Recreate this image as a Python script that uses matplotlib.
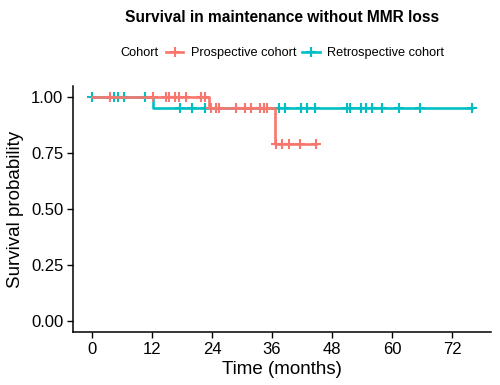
import numpy as np
import matplotlib
matplotlib.use("Agg")
import matplotlib.pyplot as plt
from matplotlib.lines import Line2D

# Kaplan-Meier step data
pro_times = [0, 23.3, 36.5, 44.7]
pro_surv = [1.0, 0.953, 0.79, 0.79]
retro_times = [0, 12.2, 76.0]
retro_surv = [1.0, 0.952, 0.952]

# censor times
pro_cens = [3.5, 12.2, 14.7, 15.4, 16.6, 17.4, 18.8, 21.7, 22.5,
            23.8, 24.7, 25.3, 28.8, 30.5, 31.7, 33.5, 34.3, 35.0,
            36.8, 38.0, 39.3, 41.5, 44.7]
retro_cens = [0, 4.3, 5.1, 6.3, 10.5, 17.5, 20.0, 22.5,
              37.3, 38.6, 41.8, 42.9, 44.5, 51.0, 51.6, 53.8, 54.7,
              56.0, 58.0, 61.3, 65.5, 76.0]

x_ticks = [0, 12, 24, 36, 48, 60, 72]
y_ticks = [0.0, 0.25, 0.5, 0.75, 1.0]
y_labels = ["0.00", "0.25", "0.50", "0.75", "1.00"]

red = "#F8766D"
cyan = "#00BFC4"

plt.rcParams['font.family'] = ['Liberation Sans', 'DejaVu Sans']

fig = plt.figure(figsize=(5, 3.85), dpi=100)
ax = fig.add_axes([0.146, 0.1377, 0.836, 0.639])


def level(times, surv, t):
    idx = np.searchsorted(times, t, side='right') - 1
    return np.array(surv)[idx]


for times, surv, cens, col, z in [(retro_times, retro_surv, retro_cens, cyan, 2),
                                  (pro_times, pro_surv, pro_cens, red, 3)]:
    ax.step(times, surv, where='post', color=col, lw=1.9, zorder=z)
    ys = [level(times, surv, t) for t in cens]
    ax.plot(cens, ys, ls='none', marker='+', ms=7, mew=1.5, color=col, zorder=z)

ax.set_xlim(-3.8, 79.8)
ax.set_ylim(-0.05, 1.05)
ax.set_xticks(x_ticks)
ax.set_yticks(y_ticks)
ax.set_yticklabels(y_labels)
ax.tick_params(labelsize=12, colors='black', length=4, width=1, direction='out', pad=3)
for s in ['top', 'right']:
    ax.spines[s].set_visible(False)
for s in ['left', 'bottom']:
    ax.spines[s].set_linewidth(1.1)
    ax.spines[s].set_color('black')
ax.set_xlabel("Time (months)", fontsize=13.5, labelpad=3)
ax.set_ylabel("Survival probability", fontsize=13.5, labelpad=5)

fig.text(0.564, 0.955, "Survival in maintenance without MMR loss",
         fontsize=11.2, fontweight='bold', ha='center', va='center')

fig.text(0.24, 0.862, "Cohort", fontsize=9.2, ha='left', va='center')
handles = [Line2D([], [], color=red, lw=1.9, marker='+', ms=7, mew=1.5),
           Line2D([], [], color=cyan, lw=1.9, marker='+', ms=7, mew=1.5)]
fig.legend(handles, ["Prospective cohort", "Retrospective cohort"],
           loc='center left', bbox_to_anchor=(0.332, 0.862), ncol=2,
           frameon=False, fontsize=9.2, handlelength=1.36, handletextpad=0.56,
           columnspacing=0.48, borderaxespad=0, borderpad=0)

fig.savefig("out.png", dpi=100)
